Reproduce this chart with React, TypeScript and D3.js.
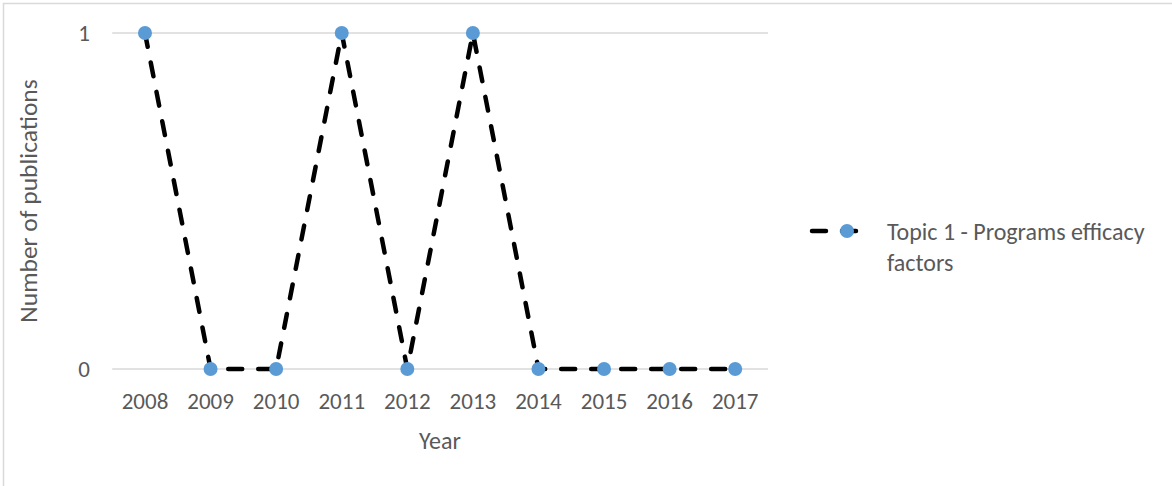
import React from "react";
import * as d3 from "d3";

const years = ["2008","2009","2010","2011","2012","2013","2014","2015","2016","2017"];
const values = [1,0,0,1,0,1,0,0,0,0];
const yTicks = [0,1];
const seriesName = ["Topic 1 - Programs efficacy", "factors"];

export default function App() {
  const W = 1172, H = 486;
  const x = d3.scaleBand<string>().domain(years).range([112.2, 768]);
  const y = d3.scaleLinear().domain([0, 1]).range([369, 33]);
  const cx = (d: string) => (x(d) as number) + x.bandwidth() / 2;
  const line = d3.line<number>().x((_, i) => cx(years[i])).y(v => y(v));
  const font = "Carlito, Calibri, Lato, 'Open Sans', sans-serif";
  const grey = "#595959";
  return (
    <svg width={W} height={H} style={{ position: "absolute", left: 0, top: 0 }} fontFamily={font}>
      <rect x={0} y={0} width={W} height={H} fill="#fff" />
      <rect x={3.5} y={3.5} width={W + 10} height={H + 10} fill="none" stroke="#d9d9d9" strokeWidth={1.5} />
      {yTicks.map(t => (
        <g key={t}>
          <line x1={112.2} x2={768} y1={y(t)} y2={y(t)} stroke="#d9d9d9" strokeWidth={1.5} />
          <text x={90} y={y(t)} dy="0.36em" textAnchor="end" fontSize={23} fill={grey}>{t}</text>
        </g>
      ))}
      {years.map(yr => (
        <text key={yr} x={cx(yr)} y={409} textAnchor="middle" fontSize={23} fill={grey}>{yr}</text>
      ))}
      <text x={440} y={449} textAnchor="middle" fontSize={24} fill={grey}>Year</text>
      <text transform={`translate(37,201) rotate(-90)`} textAnchor="middle" fontSize={25.5} fill={grey}>Number of publications</text>
      <path d={line(values) || ""} fill="none" stroke="#000" strokeWidth={4.5} strokeDasharray="14 16" strokeLinecap="round" />
      {values.map((v, i) => (
        <circle key={i} cx={cx(years[i])} cy={y(v)} r={7} fill="#5b9bd5" />
      ))}
      <line x1={812} x2={866} y1={231} y2={231} stroke="#000" strokeWidth={4.5} strokeDasharray="14 16" strokeLinecap="round" />
      <circle cx={847} cy={231} r={7} fill="#5b9bd5" />
      <text x={887} y={239.5} fontSize={24} fill={grey}>
        <tspan x={887}>{seriesName[0]}</tspan>
        <tspan x={887} dy={31}>{seriesName[1]}</tspan>
      </text>
    </svg>
  );
}
